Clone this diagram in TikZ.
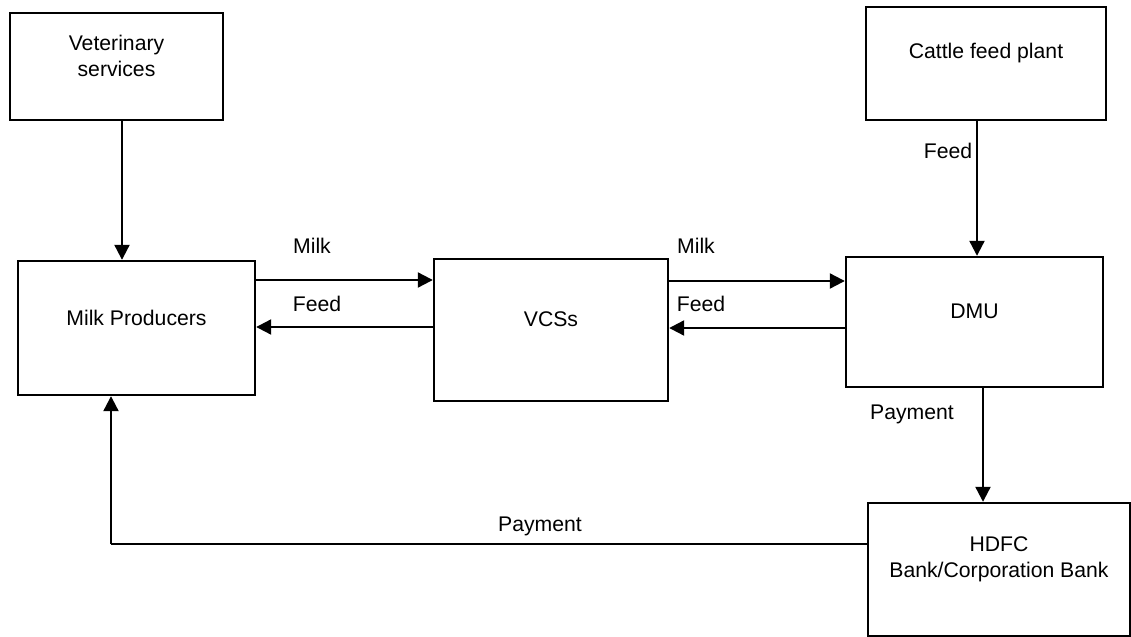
\documentclass[tikz,border=0pt]{standalone}
\usepackage{fontspec}
\setmainfont{Liberation Sans}
\usetikzlibrary{arrows.meta}

\begin{document}
\begin{tikzpicture}[
  x=0.5pt, y=-0.5pt,
  box/.style={draw, line width=1.2pt, inner sep=0pt},
  txt/.style={align=center, yshift=5.25pt, inner sep=0pt,
    font=\fontsize{10.6}{13}\selectfont},
  lbl/.style={inner sep=0pt, text height=1.5ex, text depth=.25ex,
    font=\fontsize{10.6}{13}\selectfont},
  arr/.style={-{Triangle[length=7.5pt, width=7.5pt]}, line width=1.1pt},
  thinline/.style={line width=0.6pt},
]
  \useasboundingbox (0,0) rectangle (1131,637);

  \node[box, minimum width=106.5pt, minimum height=53.5pt,
    label={[txt]center:Veterinary\\services}] (vet) at (116.5,66.5) {};
  \node[box, minimum width=120pt, minimum height=56.5pt,
    label={[txt]center:Cattle feed plant}] (plant) at (986,63.5) {};
  \node[box, minimum width=118.5pt, minimum height=67pt,
    label={[txt]center:Milk Producers}] (mp) at (136.5,328) {};
  \node[box, minimum width=117pt, minimum height=71pt,
    label={[txt]center:VCSs}] (vcs) at (551,330) {};
  \node[box, minimum width=128.5pt, minimum height=65pt,
    label={[txt]center:DMU}] (dmu) at (974.5,322) {};
  \node[box, minimum width=131pt, minimum height=66.5pt,
    label={[txt]center:HDFC\\Bank/Corporation Bank}] (bank) at (999,569.5) {};

  \coordinate (v1) at ([xshift=2.75pt]vet.south);
  \coordinate (m1) at ([yshift=24pt]mp.east);
  \coordinate (f1) at ([yshift=1.5pt]vcs.west);
  \coordinate (m2) at ([yshift=24.5pt]vcs.east);
  \coordinate (f2) at ([yshift=-3pt]dmu.west);
  \coordinate (c1) at ([xshift=-4.5pt]plant.south);
  \coordinate (p1) at ([xshift=4.25pt]dmu.south);
  \coordinate (p2) at ([yshift=12.75pt]bank.west);
  \coordinate (turn) at ([xshift=-12.75pt]mp.south |- p2);

  \draw[arr] (v1) -- (v1 |- mp.north);
  \draw[arr] (m1) -- (m1 -| vcs.west);
  \draw[arr] (f1) -- (f1 -| mp.east);
  \draw[arr] (m2) -- (m2 -| dmu.west);
  \draw[arr] (f2) -- (f2 -| vcs.east);
  \draw[arr] (c1) -- (c1 |- dmu.north);
  \draw[arr] (p1) -- (p1 |- bank.north);
  \draw[thinline] (p2) -- (turn);
  \draw[arr] (turn) -- (turn |- mp.south);

  \node[lbl] (milkA) at (312,247) {Milk};
  \node[lbl] (feedA) at (317,305) {Feed};
  \node[lbl] (milkB) at (696,247) {Milk};
  \node[lbl] (feedB) at (701,305) {Feed};
  \node[lbl] (feedC) at (948,152) {Feed};
  \node[lbl] (payA) at (912,413) {Payment};
  \node[lbl] (payB) at (540,525) {Payment};
\end{tikzpicture}
\end{document}
